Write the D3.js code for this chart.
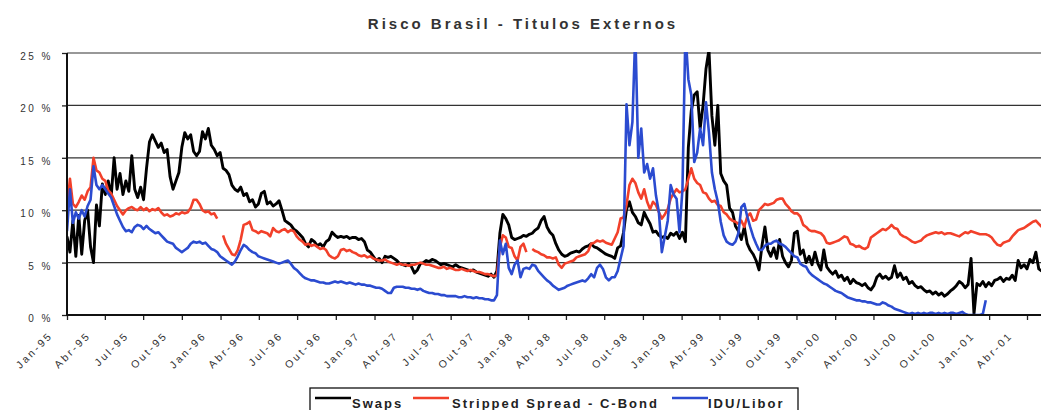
<!DOCTYPE html>
<html>
<head>
<meta charset="utf-8">
<script src="https://cdn.jsdelivr.net/npm/d3@7"></script>
<style>
  body { margin: 0; background: #fff; }
  svg { display: block; }
</style>
</head>
<body>
<svg id="chart" width="1041" height="410"></svg>
<script>
// ---- Data: weekly observations (% spread), first week starting 1 Jan 1995 ----
const chartTitle = "Risco Brasil - Titulos Externos";
const seriesNames = ["Swaps", "Stripped Spread - C-Bond", "IDU/Libor"];
const seriesColors = ["#000000", "#f2402a", "#2b4bd0"];

const xTickLabels = [
  "Jan-95","Abr-95","Jul-95","Out-95","Jan-96","Abr-96","Jul-96","Out-96",
  "Jan-97","Abr-97","Jul-97","Out-97","Jan-98","Abr-98","Jul-98","Out-98",
  "Jan-99","Abr-99","Jul-99","Out-99","Jan-00","Abr-00","Jul-00","Out-00",
  "Jan-01","Abr-01"
];
const yTicks = [0, 5, 10, 15, 20, 25];

const swaps = [
  7.5, 6.0, 9.0, 5.6, 9.5, 5.8, 9.0, 10.0, 6.5, 5.0, 10.5, 8.5, 12.5,      // from Jan-95
  11.5, 12.8, 11.3, 15.0, 12.0, 13.5, 11.5, 12.8, 11.8, 15.2, 12.0, 11.2, 12.2,
  11.0, 14.0, 16.5, 17.2, 16.6, 16.0, 16.4, 15.5, 15.8, 13.2, 12.0, 12.8, 13.6,
  16.0, 17.4, 16.8, 17.2, 15.6, 15.2, 15.6, 17.5, 16.8, 17.8, 16.2, 15.8, 15.2,
  15.5, 14.0, 13.8, 13.4, 12.4, 12.0, 11.8, 12.2, 11.4, 11.6, 10.8, 11.0, 10.3, // from Jan-96
  10.6, 11.6, 11.8, 10.6, 10.8, 10.4, 10.6, 10.9, 10.0, 9.0, 8.8, 8.6, 8.2,
  8.0, 7.7, 7.4, 6.8, 6.5, 7.2, 7.0, 6.6, 6.8, 6.5, 7.0, 7.2, 7.9,
  7.6, 7.4, 7.5, 7.4, 7.5, 7.3, 7.4, 7.4, 7.2, 7.3, 7.0, 6.2, 6.0,
  5.6, 5.2, 5.4, 5.0, 5.6, 5.5, 5.6, 5.4, 5.2, 4.9, 4.8, 4.7, 4.9,           // from Jan-97
  4.6, 4.0, 4.3, 4.9, 5.0, 5.2, 5.1, 5.3, 5.2, 5.0, 4.8, 4.9, 4.8,
  4.7, 4.6, 4.8, 4.6, 4.5, 4.4, 4.3, 4.2, 4.3, 4.1, 4.0, 3.9, 3.8,
  3.7, 3.9, 3.6, 4.2, 7.8, 9.6, 9.2, 8.6, 7.4, 7.2, 7.3, 7.4, 7.6,
  7.5, 7.7, 7.8, 8.1, 8.3, 9.0, 9.4, 8.4, 7.9, 7.6, 6.8, 6.2, 5.8,           // from Jan-98
  5.6, 5.7, 5.9, 6.0, 6.1, 6.0, 6.3, 6.5, 6.6, 6.8, 6.5, 6.4, 6.2,
  6.0, 5.8, 5.7, 5.6, 5.4, 6.4, 6.6, 7.9, 10.1, 10.8, 9.8, 9.4, 8.8,
  8.6, 9.8, 9.2, 8.7, 7.9, 8.0, 7.6, 7.4, 7.5, 7.3, 7.8, 7.6, 7.9,
  7.3, 7.9, 7.0, 16.0, 19.5, 21.0, 21.3, 17.8, 20.0, 23.5, 25.3, 19.0, 16.2, // from Jan-99
  20.0, 13.5, 12.8, 12.4, 10.2, 9.8, 8.5, 8.0, 7.2, 8.4, 6.8, 6.2, 5.8,
  5.2, 4.3, 6.6, 8.4, 6.2, 5.6, 6.4, 5.4, 7.2, 5.6, 5.0, 4.6, 5.2,
  7.8, 8.0, 5.8, 6.2, 5.0, 5.6, 4.8, 6.0, 4.9, 4.3, 6.2, 4.6, 4.2,
  3.9, 4.2, 3.6, 3.8, 3.3, 3.6, 3.0, 3.4, 3.1, 3.0, 2.8, 3.0, 2.6,           // from Jan-00
  2.4, 2.8, 3.6, 3.9, 3.5, 3.7, 3.4, 3.6, 4.7, 3.6, 4.0, 3.4, 3.6,
  3.0, 3.2, 2.8, 2.6, 2.7, 2.4, 2.2, 2.3, 2.0, 2.2, 1.9, 2.1, 1.8,
  2.0, 2.3, 2.5, 2.8, 3.2, 3.0, 2.6, 2.9, 5.4, 0.1, 3.0, 2.8, 3.2,
  2.7, 3.1, 2.8, 3.3, 3.4, 3.6, 3.2, 3.5, 3.4, 3.8, 3.3, 5.2, 4.5,           // from Jan-01
  4.8, 4.4, 5.3, 5.0, 6.0, 4.4, 4.2
];

const strippedSpread = [
  10.0, 13.0, 10.6, 10.3, 10.8, 11.4, 11.0, 11.8, 12.2, 15.0, 13.8, 13.6, 13.0, // from Jan-95
  12.8, 11.9, 11.6, 11.0, 10.4, 10.0, 9.6, 10.0, 10.2, 10.3, 10.1, 10.0, 10.3,
  10.0, 10.2, 9.9, 10.1, 10.0, 10.2, 9.8, 9.5, 9.6, 9.4, 9.5, 9.7, 9.6,
  9.8, 9.7, 9.8, 10.2, 11.0, 11.0, 10.6, 10.0, 9.8, 9.9, 9.6, 9.7, 9.2,
  null, 7.6, 6.8, 6.3, 5.8, 5.7, 6.2, 7.2, 8.6, 8.7, 8.9, 8.1, 8.0,          // from Jan-96
  7.8, 8.0, 7.9, 7.8, 7.5, 8.3, 8.0, 7.9, 8.1, 8.2, 7.9, 8.1, 8.0,
  7.5, 7.2, 7.0, 6.7, 6.8, 6.6, 6.7, 6.5, 6.3, 6.4, 6.2, 5.7, 5.5,
  5.4, 5.6, 6.2, 6.3, 6.1, 6.2, 6.0, 5.9, 5.7, 5.6, 5.7, 5.5, 5.6,
  5.4, 5.3, 5.2, 5.2, 5.3, 5.1, 5.0, 4.9, 4.8, 4.9, 4.8, 4.8, 4.7,          // from Jan-97
  4.8, 4.8, 4.9, 5.0, 4.9, 4.8, 4.8, 4.7, 4.6, 4.5, 4.5, 4.6, 4.4,
  4.5, 4.4, 4.3, 4.3, 4.4, 4.3, 4.2, 4.3, 4.2, 4.1, 4.1, 4.0, 3.9,
  3.9, 3.8, 3.7, 3.8, 6.5, 7.6, 7.4, 6.5, 6.4, 5.6, 5.2, 6.5, 6.8,
  6.0, null, 6.3, 6.1, 6.0, 5.8, 5.7, 5.5, 5.5, 5.4, 5.5, 4.8, 4.5,         // from Jan-98
  4.9, 5.0, 5.1, 5.2, 5.5, 5.6, 5.7, 5.8, 6.1, 6.8, 6.9, 7.1, 7.0,
  7.1, 6.9, 6.8, 6.7, 7.3, 7.9, 9.2, 9.3, 10.5, 12.4, 13.0, 12.6, 11.7,
  11.1, 12.0, 10.8, 10.1, 10.8, 10.5, 9.8, 9.2, 9.6, 10.1, 11.1, 11.6, 12.0,
  11.7, 11.8, 12.0, 13.0, 14.0, 13.0, 12.6, 12.4, 11.7, 11.6, 11.1, 10.8, 10.9, // from Jan-99
  10.5, 10.4, 9.8, 9.6, 9.2, 9.0, 8.9, 8.7, 9.0, 8.4, 9.4, 9.7, 9.0,
  9.1, 10.0, 10.3, 10.6, 10.5, 10.6, 10.7, 11.0, 11.1, 11.1, 10.6, 10.3, 9.9,
  9.7, 9.7, 9.4, 8.6, 8.4, 8.1, 8.0, 8.0, 7.9, 7.8, 7.5, 6.9, 6.8,
  6.9, 7.0, 7.1, 7.3, 7.5, 7.4, 6.8, 6.7, 6.5, 6.6, 6.4, 6.3, 6.5,          // from Jan-00
  7.4, 7.6, 7.8, 8.0, 8.2, 8.1, 8.3, 8.6, 8.3, 8.2, 7.7, 7.5, 7.4,
  7.2, 7.0, 6.9, 7.0, 7.1, 7.4, 7.6, 7.7, 7.8, 7.9, 7.8, 7.9, 7.7,
  7.8, 7.8, 7.7, 7.6, 7.5, 7.7, 7.9, 7.8, 8.0, 7.9, 7.8, 7.7, 7.7,
  7.7, 7.6, 7.4, 7.0, 6.7, 6.6, 6.9, 7.0, 7.1, 7.5, 7.8, 8.1, 8.2,          // from Jan-01
  8.3, 8.5, 8.7, 8.9, 9.0, 8.7, 8.4
];

const iduLibor = [
  8.0, 12.0, 8.8, 9.8, 9.2, 10.0, 9.4, 10.4, 11.0, 14.2, 12.4, 12.0, 12.4,  // from Jan-95
  12.0, 11.6, 11.2, 10.4, 9.6, 9.0, 8.4, 8.0, 8.1, 7.9, 8.4, 8.6, 8.5,
  8.2, 8.5, 8.2, 8.0, 7.8, 7.9, 7.6, 7.3, 7.0, 6.9, 6.8, 6.4, 6.2,
  6.0, 6.2, 6.4, 6.8, 7.0, 6.9, 7.0, 6.8, 6.9, 6.6, 6.3, 6.2, 6.0,
  5.6, 5.4, 5.2, 5.0, 4.8, 5.1, 5.6, 6.2, 6.7, 6.5, 6.2, 6.0, 5.9,          // from Jan-96
  5.6, 5.5, 5.4, 5.3, 5.2, 5.1, 5.0, 4.9, 5.0, 5.1, 5.2, 4.9, 4.5,
  4.3, 4.0, 3.7, 3.5, 3.4, 3.3, 3.3, 3.2, 3.1, 3.1, 3.0, 3.0, 3.1,
  3.2, 3.1, 3.2, 3.1, 3.0, 3.1, 3.0, 2.9, 3.0, 2.9, 2.9, 2.8, 2.8,
  2.7, 2.6, 2.6, 2.5, 2.3, 2.1, 2.1, 2.6, 2.7, 2.7, 2.7, 2.6, 2.6,          // from Jan-97
  2.5, 2.5, 2.4, 2.5, 2.3, 2.2, 2.1, 2.1, 2.0, 2.0, 1.9, 1.9, 1.8,
  1.8, 1.8, 1.8, 1.7, 1.7, 1.8, 1.7, 1.7, 1.6, 1.7, 1.6, 1.6, 1.5,
  1.5, 1.4, 1.4, 1.9, 7.1, 5.8, 6.8, 4.5, 3.9, 4.8, 5.2, 3.6, 4.4,
  4.5, 4.4, 4.8, 4.7, 4.2, 3.9, 3.6, 3.3, 3.1, 2.8, 2.6, 2.4, 2.5,          // from Jan-98
  2.6, 2.8, 2.9, 3.0, 3.1, 3.2, 3.3, 3.2, 3.5, 3.9, 3.6, 4.5, 4.8,
  4.4, 3.6, 3.3, 3.6, 3.6, 4.2, 5.4, 6.6, 20.1, 16.2, 18.4, 27.0, 15.0,
  17.8, 13.6, 14.4, 13.0, 14.0, 11.4, 9.8, 6.0, 7.5, 9.0, 12.4, 11.5, 11.1,
  7.9, 12.0, 27.0, 22.5, 21.0, 14.6, 15.5, 17.8, 16.2, 20.3, 17.4, 13.6, 12.0, // from Jan-99
  10.8, 8.9, 7.6, 7.0, 6.8, 6.7, 7.0, 7.8, 10.3, 10.6, 9.4, 8.4, 7.5,
  6.8, 6.2, 6.2, 6.6, 6.8, 6.8, 7.0, 7.1, 6.8, 6.7, 6.5, 6.2, 5.9,
  5.6, 5.5, 4.9, 4.7, 4.6, 4.1, 3.8, 3.6, 3.4, 3.2, 3.0, 2.9, 2.7,
  2.5, 2.3, 2.2, 2.1, 1.9, 1.7, 1.6, 1.5, 1.4, 1.4, 1.3, 1.3, 1.2,          // from Jan-00
  1.2, 1.1, 1.0, 1.0, 1.2, 1.1, 0.9, 0.8, 0.6, 0.5, 0.4, 0.3, 0.2,
  0.1, 0.2, 0.1, 0.2, 0.1, 0.2, 0.1, 0.2, 0.2, 0.1, 0.2, 0.1, 0.2,
  0.1, 0.2, 0.2, 0.1, 0.2, 0.3, 0.1, 0.0, 0.0, 0.0, 0.0, 0.0, 0.1,
  1.4                                                                       // from Jan-01
];

// ---- Layout ----
const plot = { left: 67, right: 1041, top: 53, bottom: 315 };
const axisFont = "'Liberation Sans', Arial, sans-serif";

const svg = d3.select("#chart");

const firstWeek = new Date(1995, 0, 1);
const weekDates = d3.range(swaps.length).map(i => d3.timeDay.offset(firstWeek, 7 * i));
const tickDates = d3.timeMonth.every(3).range(new Date(1995, 0, 1), new Date(2001, 3, 2));

const x = d3.scaleTime()
  .domain([new Date(1995, 0, 1), new Date(2001, 3, 1)])
  .range([67, 1027]);
const y = d3.scaleLinear().domain([0, 25]).range([plot.bottom, plot.top]);

// Title
svg.append("text")
  .attr("x", 523).attr("y", 29)
  .attr("text-anchor", "middle")
  .attr("fill", "#333")
  .style("font-family", axisFont)
  .style("font-weight", "bold")
  .style("font-size", "15px")
  .style("letter-spacing", "3px")
  .text(chartTitle);

// Horizontal gridlines
svg.append("g")
  .selectAll("line")
  .data(yTicks.filter(v => v > 0))
  .join("line")
  .attr("x1", plot.left).attr("x2", plot.right)
  .attr("y1", d => y(d)).attr("y2", d => y(d))
  .attr("stroke", "#333").attr("stroke-width", 1.2);

// Series lines, clipped to the plot area
svg.append("clipPath").attr("id", "plot-clip")
  .append("rect")
  .attr("x", plot.left).attr("y", plot.top - 1)
  .attr("width", plot.right - plot.left + 5)
  .attr("height", plot.bottom - plot.top + 1);

const line = d3.line()
  .defined(d => d.v != null)
  .x(d => x(d.date))
  .y(d => y(d.v));

const seriesValues = [swaps, strippedSpread, iduLibor];
const strokeWidths = [2.9, 2.6, 2.6];
const linesG = svg.append("g").attr("clip-path", "url(#plot-clip)");
seriesValues.forEach((vals, k) => {
  const pts = vals.map((v, i) => ({ date: weekDates[i], v }));
  linesG.append("path")
    .datum(pts)
    .attr("d", line)
    .attr("fill", "none")
    .attr("stroke", seriesColors[k])
    .attr("stroke-width", strokeWidths[k])
    .attr("stroke-linejoin", "round");
});

// Y axis
const yAxis = svg.append("g")
  .attr("transform", `translate(${plot.left},0)`)
  .call(d3.axisLeft(y).tickValues(yTicks).tickSize(5).tickSizeOuter(0)
    .tickFormat(d => d + " %"));
yAxis.select(".domain").remove();
yAxis.selectAll(".tick line").attr("stroke", "#222").attr("stroke-width", 1.3);
yAxis.selectAll(".tick text")
  .attr("x", -14).attr("y", 3).attr("dy", "0.35em")
  .attr("fill", "#333")
  .style("font-family", axisFont).style("font-size", "10px")
  .style("letter-spacing", "2.5px");

// X axis
const xAxis = svg.append("g")
  .attr("transform", `translate(0,${plot.bottom})`)
  .call(d3.axisBottom(x).tickValues(tickDates).tickSize(5).tickSizeOuter(0)
    .tickFormat((d, i) => xTickLabels[i]));
xAxis.select(".domain").remove();
xAxis.selectAll(".tick line").attr("stroke", "#222").attr("stroke-width", 1.3);
xAxis.selectAll(".tick text")
  .attr("x", 0).attr("y", 0).attr("dy", 0)
  .attr("text-anchor", "end")
  .attr("transform", "translate(-14,21) rotate(-45)")
  .attr("fill", "#333")
  .style("font-family", axisFont).style("font-size", "10.5px")
  .style("letter-spacing", "2.5px");

// Axis lines
svg.append("line")
  .attr("x1", plot.left).attr("x2", plot.left)
  .attr("y1", plot.top).attr("y2", plot.bottom + 1)
  .attr("stroke", "#111").attr("stroke-width", 2);
svg.append("line")
  .attr("x1", plot.left - 1).attr("x2", plot.right)
  .attr("y1", plot.bottom).attr("y2", plot.bottom)
  .attr("stroke", "#111").attr("stroke-width", 2);

// Legend
const legend = svg.append("g");
legend.append("rect")
  .attr("x", 310).attr("y", 388).attr("width", 488).attr("height", 40)
  .attr("fill", "#fff").attr("stroke", "#111").attr("stroke-width", 1.3);
const legendItems = [
  { lineX: 315, textX: 352 },
  { lineX: 413, textX: 452 },
  { lineX: 672, textX: 708 }
];
legendItems.forEach((it, k) => {
  legend.append("line")
    .attr("x1", it.lineX).attr("x2", it.lineX + 36)
    .attr("y1", 398).attr("y2", 398)
    .attr("stroke", seriesColors[k]).attr("stroke-width", 2.4);
  legend.append("text")
    .attr("x", it.textX).attr("y", 408)
    .attr("fill", "#222")
    .style("font-family", axisFont).style("font-weight", "bold")
    .style("font-size", "13px").style("letter-spacing", "2px")
    .text(seriesNames[k]);
});
</script>
</body>
</html>
